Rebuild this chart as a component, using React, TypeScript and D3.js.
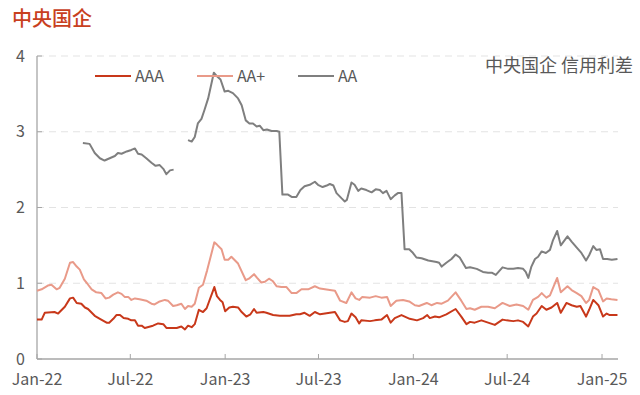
import React from "react";
import * as d3 from "d3";

const yTicks = [0, 1, 2, 3, 4];
const xTickLabels = ["Jan-22", "Jul-22", "Jan-23", "Jul-23", "Jan-24", "Jul-24", "Jan-25"];
const xTickDates = ["2022-01-01", "2022-07-01", "2023-01-01", "2023-07-01", "2024-01-01", "2024-07-01", "2025-01-01"];

const aaaDates = ["2022-01-01","2022-01-10","2022-01-16","2022-02-04","2022-02-11","2022-02-24","2022-03-06","2022-03-12","2022-03-19","2022-03-28","2022-04-04","2022-04-10","2022-04-23","2022-05-03","2022-05-16","2022-05-21","2022-05-29","2022-06-04","2022-06-11","2022-06-18","2022-06-27","2022-07-03","2022-07-10","2022-07-16","2022-07-23","2022-07-29","2022-08-14","2022-08-24","2022-09-03","2022-09-09","2022-09-29","2022-10-08","2022-10-15","2022-10-21","2022-10-28","2022-11-03","2022-11-11","2022-11-19","2022-11-26","2022-12-11","2022-12-16","2022-12-22","2022-12-27","2023-01-01","2023-01-09","2023-01-16","2023-01-26","2023-02-02","2023-02-11","2023-02-19","2023-02-26","2023-03-03","2023-03-16","2023-03-22","2023-04-04","2023-04-17","2023-05-06","2023-05-19","2023-05-26","2023-06-04","2023-06-14","2023-06-24","2023-07-04","2023-07-23","2023-08-02","2023-08-12","2023-08-21","2023-08-27","2023-09-03","2023-09-11","2023-09-18","2023-09-22","2023-10-09","2023-10-18","2023-10-31","2023-11-11","2023-11-18","2023-11-26","2023-12-09","2023-12-25","2024-01-08","2024-01-20","2024-01-28","2024-02-02","2024-02-12","2024-02-20","2024-03-05","2024-03-23","2024-04-03","2024-04-13","2024-04-20","2024-04-29","2024-05-12","2024-05-25","2024-06-07","2024-06-22","2024-06-30","2024-07-13","2024-07-22","2024-08-01","2024-08-11","2024-08-20","2024-08-27","2024-09-06","2024-09-15","2024-09-25","2024-10-06","2024-10-13","2024-10-24","2024-11-03","2024-11-13","2024-11-20","2024-12-01","2024-12-07","2024-12-15","2024-12-25","2025-01-03","2025-01-10","2025-01-16","2025-01-31"];
const aaaValues = [0.52,0.52,0.61,0.62,0.60,0.69,0.80,0.81,0.74,0.73,0.68,0.66,0.57,0.53,0.48,0.48,0.53,0.58,0.58,0.54,0.53,0.51,0.51,0.44,0.44,0.41,0.44,0.47,0.46,0.41,0.41,0.43,0.39,0.44,0.42,0.46,0.65,0.62,0.67,0.95,0.83,0.78,0.75,0.63,0.68,0.69,0.68,0.62,0.56,0.59,0.66,0.61,0.62,0.61,0.58,0.57,0.57,0.59,0.59,0.61,0.57,0.62,0.59,0.61,0.62,0.51,0.49,0.50,0.60,0.55,0.47,0.51,0.50,0.51,0.52,0.58,0.48,0.54,0.58,0.53,0.51,0.54,0.58,0.54,0.56,0.55,0.59,0.66,0.56,0.46,0.49,0.48,0.51,0.48,0.45,0.52,0.51,0.50,0.51,0.49,0.43,0.56,0.60,0.70,0.65,0.68,0.74,0.61,0.74,0.71,0.69,0.70,0.56,0.65,0.78,0.71,0.56,0.60,0.58,0.58];

const aaPlusDates = ["2022-01-01","2022-01-10","2022-01-22","2022-01-29","2022-02-08","2022-02-14","2022-02-24","2022-03-06","2022-03-12","2022-03-19","2022-03-25","2022-04-02","2022-04-08","2022-04-17","2022-04-26","2022-05-06","2022-05-14","2022-05-21","2022-05-29","2022-06-07","2022-06-14","2022-06-20","2022-06-27","2022-07-03","2022-07-10","2022-07-19","2022-08-01","2022-08-11","2022-08-17","2022-08-27","2022-09-06","2022-09-12","2022-09-22","2022-09-29","2022-10-08","2022-10-15","2022-10-21","2022-10-28","2022-11-03","2022-11-11","2022-11-19","2022-11-27","2022-12-11","2022-12-16","2022-12-25","2022-12-31","2023-01-07","2023-01-13","2023-01-26","2023-02-10","2023-02-16","2023-02-26","2023-03-04","2023-03-12","2023-03-19","2023-03-27","2023-04-03","2023-04-11","2023-04-20","2023-04-30","2023-05-10","2023-05-19","2023-05-29","2023-06-11","2023-06-24","2023-07-04","2023-07-23","2023-08-02","2023-08-12","2023-08-24","2023-09-03","2023-09-11","2023-09-18","2023-09-24","2023-10-09","2023-10-20","2023-10-31","2023-11-11","2023-11-18","2023-11-29","2023-12-12","2023-12-24","2024-01-04","2024-01-12","2024-01-27","2024-02-05","2024-02-16","2024-02-25","2024-03-08","2024-03-23","2024-04-03","2024-04-13","2024-04-20","2024-04-29","2024-05-12","2024-05-25","2024-06-07","2024-06-22","2024-07-06","2024-07-19","2024-08-01","2024-08-11","2024-08-20","2024-08-30","2024-09-06","2024-09-15","2024-09-22","2024-10-06","2024-10-13","2024-10-26","2024-11-03","2024-11-13","2024-11-22","2024-12-01","2024-12-07","2024-12-15","2024-12-25","2025-01-03","2025-01-10","2025-01-19","2025-01-31"];
const aaPlusValues = [0.90,0.92,0.97,0.98,0.92,0.94,1.06,1.27,1.28,1.22,1.18,1.05,1.00,0.92,0.88,0.87,0.80,0.81,0.85,0.88,0.86,0.82,0.82,0.78,0.80,0.79,0.77,0.73,0.72,0.76,0.78,0.77,0.70,0.71,0.73,0.66,0.70,0.69,0.73,0.94,0.98,1.17,1.54,1.51,1.45,1.31,1.31,1.35,1.26,1.04,1.06,1.12,1.07,1.01,1.02,1.06,1.03,0.96,0.95,0.95,0.87,0.87,0.92,0.92,0.96,0.93,0.91,0.90,0.77,0.74,0.88,0.80,0.78,0.82,0.81,0.83,0.81,0.82,0.70,0.77,0.78,0.76,0.71,0.70,0.74,0.71,0.74,0.73,0.77,0.88,0.77,0.66,0.67,0.65,0.69,0.69,0.67,0.74,0.70,0.72,0.70,0.65,0.78,0.82,0.87,0.81,0.84,1.07,0.88,0.96,0.91,0.87,0.83,0.74,0.78,0.95,0.91,0.76,0.80,0.79,0.78];

const aaDates = ["2022-03-31","2022-04-13","2022-04-23","2022-05-03","2022-05-12","2022-05-22","2022-06-01","2022-06-07","2022-06-14","2022-06-24","2022-07-03","2022-07-10","2022-07-16","2022-07-23","2022-08-01","2022-08-11","2022-08-19","2022-08-27","2022-09-03","2022-09-09","2022-09-16","2022-09-23","2022-10-07","2022-10-21","2022-10-28","2022-11-03","2022-11-09","2022-11-16","2022-11-22","2022-11-29","2022-12-10","2022-12-15","2022-12-23","2022-12-31","2023-01-07","2023-01-16","2023-01-26","2023-02-02","2023-02-10","2023-02-17","2023-02-24","2023-03-03","2023-03-09","2023-03-16","2023-03-23","2023-04-01","2023-04-11","2023-04-16","2023-04-22","2023-05-03","2023-05-10","2023-05-19","2023-05-27","2023-06-04","2023-06-14","2023-06-24","2023-06-30","2023-07-09","2023-07-17","2023-07-23","2023-07-30","2023-08-05","2023-08-15","2023-08-21","2023-08-25","2023-09-03","2023-09-09","2023-09-16","2023-09-22","2023-10-02","2023-10-12","2023-10-20","2023-10-28","2023-11-03","2023-11-10","2023-11-18","2023-11-26","2023-12-02","2023-12-09","2023-12-15","2023-12-24","2023-12-30","2024-01-07","2024-01-17","2024-01-30","2024-02-15","2024-02-20","2024-02-25","2024-03-05","2024-03-15","2024-03-23","2024-03-31","2024-04-12","2024-04-20","2024-05-03","2024-05-15","2024-05-25","2024-06-01","2024-06-09","2024-06-22","2024-07-03","2024-07-13","2024-07-22","2024-08-01","2024-08-06","2024-08-11","2024-08-17","2024-08-24","2024-08-30","2024-09-06","2024-09-14","2024-09-22","2024-09-28","2024-10-06","2024-10-13","2024-10-26","2024-11-03","2024-11-13","2024-11-22","2024-12-01","2024-12-07","2024-12-15","2024-12-21","2024-12-28","2025-01-03","2025-01-11","2025-01-20","2025-01-31"];
const aaValues = [2.85,2.84,2.72,2.65,2.62,2.65,2.68,2.72,2.71,2.74,2.76,2.78,2.71,2.70,2.65,2.59,2.55,2.56,2.51,2.44,2.49,2.50,null,2.89,2.87,2.93,3.11,3.17,3.29,3.44,3.78,3.74,3.69,3.53,3.54,3.51,3.44,3.35,3.15,3.11,3.11,3.07,3.08,3.02,3.03,3.01,3.01,3.00,2.17,2.17,2.14,2.14,2.23,2.28,2.30,2.34,2.30,2.27,2.29,2.31,2.29,2.19,2.12,2.08,2.10,2.33,2.30,2.22,2.25,2.23,2.20,2.24,2.23,2.19,2.22,2.11,2.16,2.19,2.19,1.45,1.45,1.41,1.34,1.33,1.30,1.28,1.27,1.22,1.27,1.32,1.38,1.34,1.20,1.21,1.19,1.15,1.14,1.14,1.11,1.21,1.19,1.19,1.20,1.19,1.15,1.07,1.22,1.32,1.35,1.42,1.40,1.44,1.57,1.69,1.50,1.62,1.55,1.47,1.40,1.30,1.37,1.49,1.44,1.45,1.32,1.32,1.31,1.32];

const seriesNames = ["AAA", "AA+", "AA"];
const seriesColors = ["#C8381A", "#E99A89", "#7F7F7F"];

const title = "中央国企";
const note = "中央国企 信用利差";

const FONT = "'Noto Sans CJK SC', 'Noto Sans', sans-serif";

export default function App() {
  const W = 640, H = 395;
  const parse = d3.timeParse("%Y-%m-%d");
  const x = d3.scaleTime()
    .domain([parse("2022-01-01")!, parse("2025-02-01")!])
    .range([37, 618]);
  const y = d3.scaleLinear().domain([0, 4]).range([359, 56]);

  const mk = (dates: string[], vals: (number | null)[]) =>
    dates.map((d, i) => ({ d: parse(d)!, v: vals[i] }));
  const series = [
    mk(aaaDates, aaaValues),
    mk(aaPlusDates, aaPlusValues),
    mk(aaDates, aaValues),
  ];
  const line = d3.line<{ d: Date; v: number | null }>()
    .defined((p) => p.v !== null)
    .x((p) => x(p.d))
    .y((p) => y(p.v as number));

  const legendX = [95, 197, 298];
  const axisColor = "#A6A6A6";
  const textColor = "#595959";

  return (
    <svg width={W} height={H} style={{ position: "absolute", left: 0, top: 0, background: "#fff" }} fontFamily={FONT}>
      <text x={12} y={26} fontSize={20} fontWeight={500} fill="#C8401E">{title}</text>
      {yTicks.filter((t) => t > 0).map((t) => (
        <line key={"g" + t} x1={37} x2={618} y1={y(t)} y2={y(t)} stroke="#E3E3E3" strokeWidth={1} strokeDasharray="7,5" />
      ))}
      {yTicks.map((t) => (
        <g key={"yt" + t}>
          <line x1={37} x2={42} y1={y(t)} y2={y(t)} stroke={axisColor} strokeWidth={1} />
          <text x={25} y={y(t)} dy="0.35em" textAnchor="end" fontSize={16} fill={textColor}>{t}</text>
        </g>
      ))}
      <line x1={37} x2={37} y1={56} y2={359} stroke={axisColor} strokeWidth={1.3} />
      <line x1={37} x2={618} y1={359} y2={359} stroke={axisColor} strokeWidth={1.3} />
      {xTickDates.map((d, i) => (
        <g key={"xt" + d}>
          <line x1={x(parse(d)!)} x2={x(parse(d)!)} y1={359} y2={354} stroke={axisColor} strokeWidth={1} />
          <text x={x(parse(d)!)} y={385} textAnchor="middle" fontSize={16} fill={textColor}>{xTickLabels[i]}</text>
        </g>
      ))}
      {series.map((s, i) => (
        <path key={"s" + i} d={line(s) || ""} fill="none" stroke={seriesColors[i]} strokeWidth={2} strokeLinejoin="round" />
      ))}
      {seriesNames.map((n, i) => (
        <g key={"lg" + n}>
          <line x1={legendX[i]} x2={legendX[i] + 36} y1={76} y2={76} stroke={seriesColors[i]} strokeWidth={2} />
          <text x={legendX[i] + 40} y={76} dy="0.35em" fontSize={16} fill={textColor}>{n}</text>
        </g>
      ))}
      <text x={633} y={72} textAnchor="end" fontSize={18} fill={textColor}>{note}</text>
    </svg>
  );
}
